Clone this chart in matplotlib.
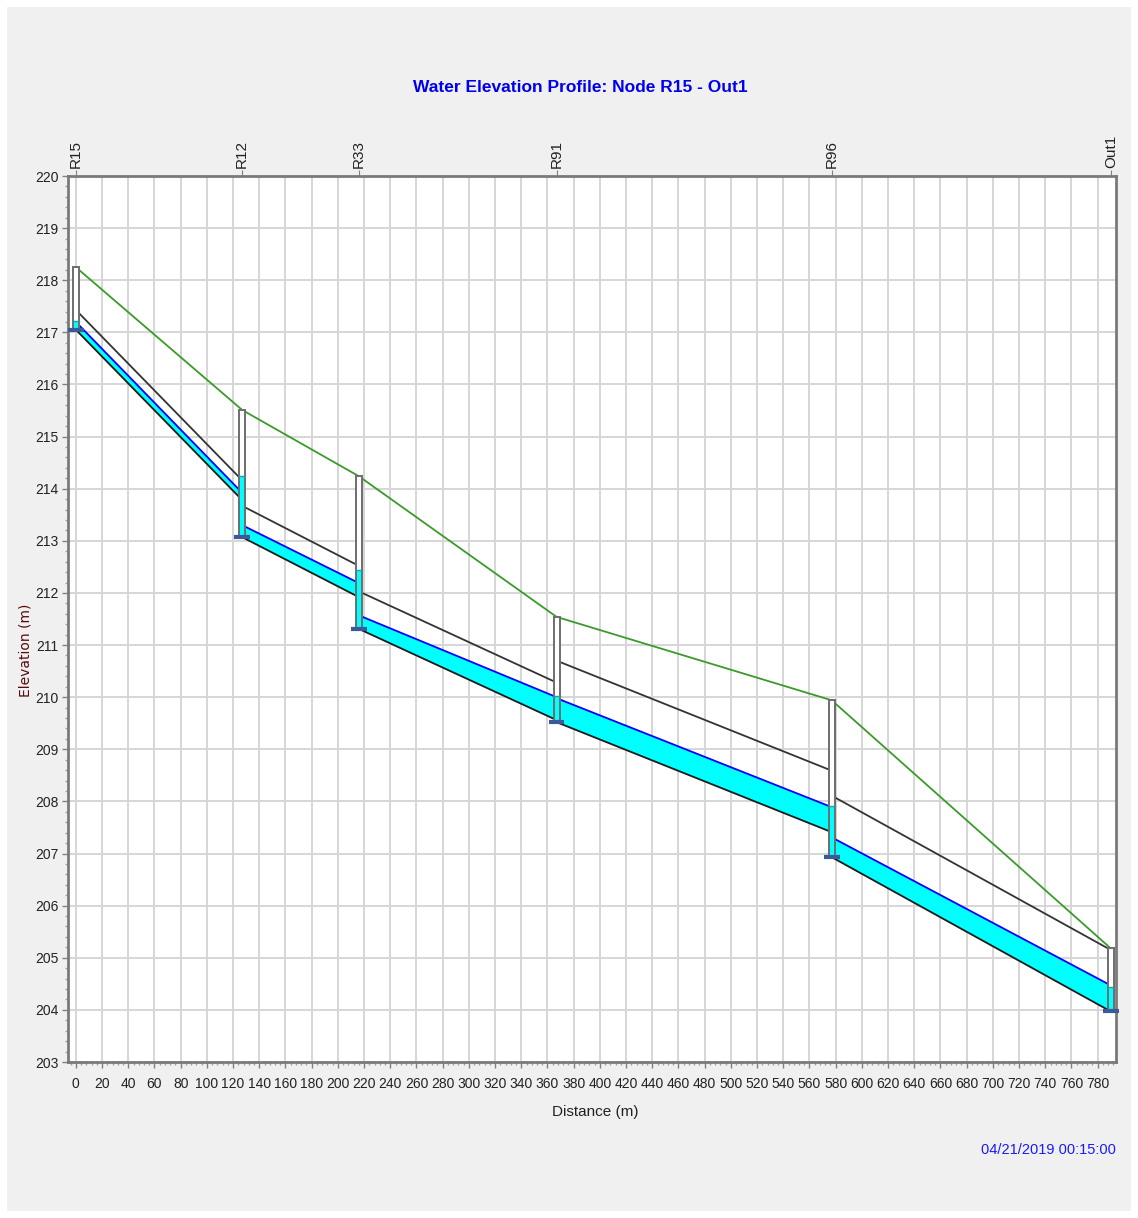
"""Water elevation profile along R15 - Out1"""
import numpy as np
import matplotlib
matplotlib.use('Agg')
import matplotlib.pyplot as plt
import matplotlib.ticker as plticker
from matplotlib.patches import Rectangle

FONT = ['Liberation Sans', 'DejaVu Sans']

# nodes along the profile
node_names = ['R15', 'R12', 'R33', 'R91', 'R96', 'Out1']
node_dist = [0, 127, 216, 367, 577, 790]
node_invert = [217.05, 213.07, 211.31, 209.52, 206.93, 203.97]
node_rim = [218.25, 215.51, 214.24, 211.54, 209.94, 205.18]
node_water = [217.22, 214.24, 212.44, 210.02, 207.91, 204.43]

# conduits between consecutive nodes
link_up_bottom = [217.05, 213.07, 211.31, 209.52, 206.93]
link_dn_bottom = [213.78, 211.92, 209.56, 207.41, 203.97]
link_height = [0.38, 0.60, 0.72, 1.18, 1.18]
link_up_water = [217.20, 213.30, 211.57, 209.98, 207.31]
link_dn_water = [213.92, 212.19, 210.00, 207.89, 204.47]

x_ticks = list(range(0, 781, 20))
y_ticks = list(range(203, 221))

fig = plt.figure(figsize=(11.38, 12.18), dpi=100, facecolor='white')
# grey panel behind everything
fig.patches.append(Rectangle((7 / 1138, 7 / 1218), 1 - 14 / 1138, 1 - 14 / 1218,
                             transform=fig.transFigure, facecolor='#f0f0f0',
                             edgecolor='none', zorder=-10))
ax = fig.add_axes([68 / 1138, 1 - 1062 / 1218, (1116 - 68) / 1138, (1062 - 176) / 1218])
ax.set_zorder(1)
ax.set_facecolor('white')
ax.set_xlim(-6, 794)
ax.set_ylim(203, 220)

ax.set_xticks(x_ticks)
ax.set_yticks(y_ticks)
ax.xaxis.set_minor_locator(plticker.MultipleLocator(4))
ax.yaxis.set_minor_locator(plticker.MultipleLocator(0.2))
ax.grid(True, which='major', color='#d6d6d6', lw=1.4, zorder=0)
ax.set_axisbelow(True)
ax.tick_params(which='major', length=4, width=1, color='#808080', labelsize=10,
               labelcolor='#222222')
ax.tick_params(axis='x', which='major', pad=7)
ax.tick_params(axis='y', which='major', pad=3)
ax.tick_params(which='minor', length=2.5, width=1, color='#a0a0a0')
for lab in ax.get_xticklabels() + ax.get_yticklabels():
    lab.set_family(FONT)
for sp in ax.spines.values():
    sp.set_color('#7a7a7a')
    sp.set_linewidth(2)

# conduits
for i in range(len(link_up_bottom)):
    xs = [node_dist[i], node_dist[i + 1]]
    bot = np.array([link_up_bottom[i], link_dn_bottom[i]])
    top = bot + link_height[i]
    wat = np.array([link_up_water[i], link_dn_water[i]])
    ax.fill_between(xs, bot, wat, color='#00ffff', lw=0, zorder=2)
    ax.plot(xs, wat, color='#0000ff', lw=1.3, zorder=3)
    ax.plot(xs, bot, color='#1a1a1a', lw=1.3, zorder=3)
    ax.plot(xs, top, color='#333333', lw=1.3, zorder=3)

# ground line
ax.plot(node_dist, node_rim, color='#3a9a2a', lw=1.3, zorder=4)

# nodes
w = 4.4
for x, inv, rim, wl in zip(node_dist, node_invert, node_rim, node_water):
    ax.add_patch(Rectangle((x - w / 2, inv), w, rim - inv, facecolor='white',
                           edgecolor='none', zorder=5))
    ax.add_patch(Rectangle((x - w / 2, inv), w, wl - inv, facecolor='#00ffff',
                           edgecolor='none', zorder=6))
    ax.add_patch(Rectangle((x - w / 2, inv), w, rim - inv, facecolor='none',
                           edgecolor='#6e6e6e', lw=1.4, zorder=7))
    ax.plot([x - w / 2, x + w / 2], [wl, wl], color='#2a9a9a', lw=1, zorder=7)
    ax.plot([x - 6, x + 6], [inv, inv], color='#3c5a9a', lw=3, zorder=8,
            solid_capstyle='butt', clip_on=False)

# node names on top
top = ax.secondary_xaxis('top')
top.set_xticks(node_dist)
top.set_xticklabels(node_names, rotation=90, family=FONT, fontsize=11, color='#222222')
top.tick_params(length=4, color='#808080', pad=2)
top.spines['top'].set_visible(False)

ax.set_xlabel('Distance (m)', family=FONT, fontsize=11, color='#222222')
ax.xaxis.set_label_coords(0.503, -0.049)
ax.set_ylabel('Elevation (m)', family='DejaVu Sans', fontsize=10, color='#5a0a0a')
ax.yaxis.set_label_coords(-0.034, 0.465)
fig.text(580 / 1138, 1 - 87 / 1218, 'Water Elevation Profile: Node R15 - Out1',
         ha='center', va='center', family=FONT, fontsize=12.5, fontweight='bold', color='#0000ee')
fig.text(1116 / 1138, 1 - 1150 / 1218, '04/21/2019 00:15:00', ha='right', va='center',
         family=FONT, fontsize=10.5, color='#1a1aff')

fig.savefig('out.png', dpi=100, facecolor=fig.get_facecolor())
